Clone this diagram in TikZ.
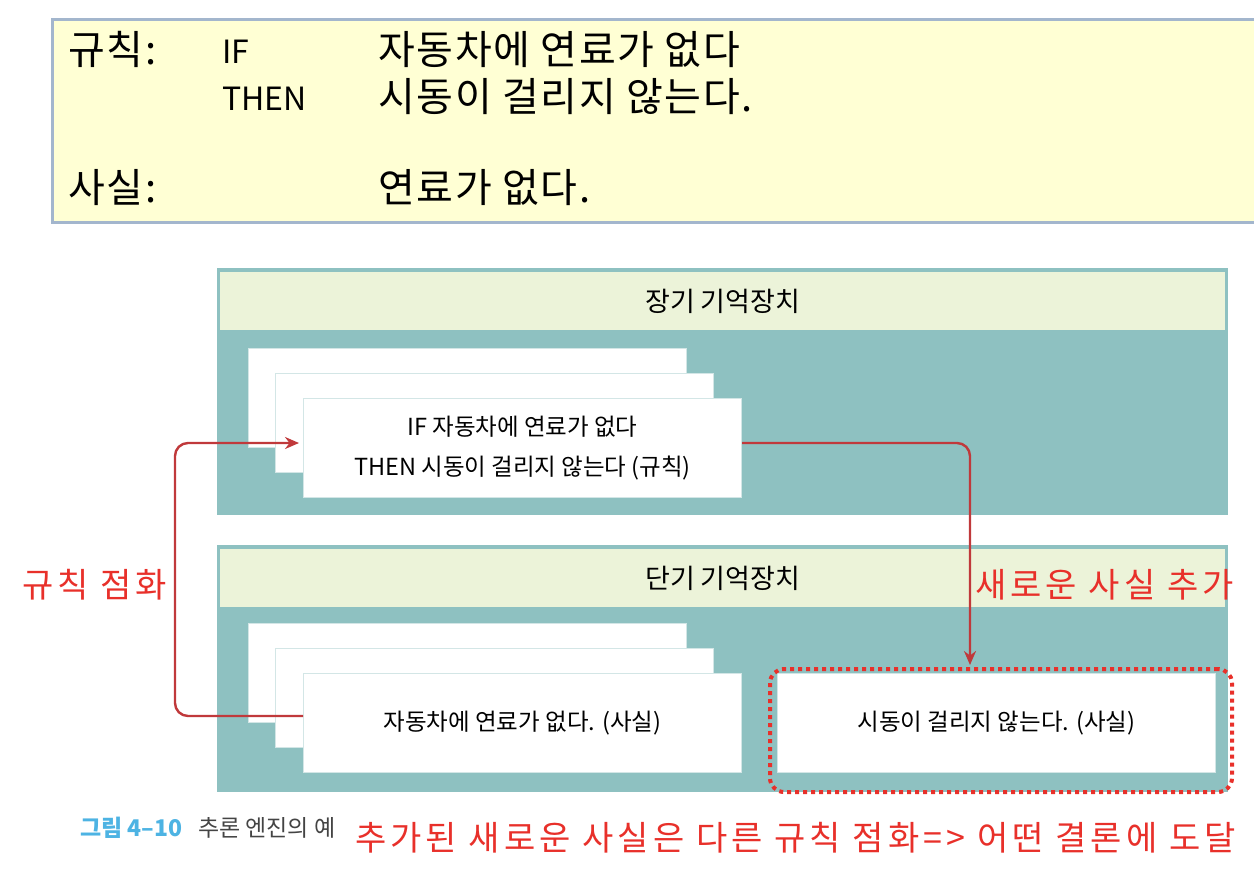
\documentclass[tikz,border=0pt]{standalone}
\usepackage{fontspec}
\setmainfont{Noto Sans CJK KR}
\newfontfamily\redfont[LetterSpace=12]{Noto Sans CJK KR}
\newfontfamily\topfont[LetterSpace=4]{Noto Sans CJK KR}
\usetikzlibrary{arrows.meta,positioning}
\definecolor{boxline}{HTML}{A3B6CD}
\definecolor{boxfill}{HTML}{FFFFD4}
\definecolor{memteal}{HTML}{8EC1C1}
\definecolor{memhead}{HTML}{ECF3D9}
\definecolor{cardline}{HTML}{D3E6E6}
\definecolor{linkred}{HTML}{C0393B}
\definecolor{notered}{HTML}{E8302A}
\definecolor{figblue}{HTML}{4DB3E3}
\definecolor{figgray}{HTML}{444444}
\tikzset{
  memory/.style={fill=memteal, minimum width=1011pt, minimum height=247pt, anchor=north west, inner sep=0pt},
  memtitle/.style={fill=memhead, minimum width=1005pt, minimum height=58pt, anchor=north west, inner sep=0pt, font=\fontsize{27}{30}\selectfont},
  card/.style={fill=white, draw=cardline, line width=1pt, minimum width=438pt, minimum height=99pt, anchor=north west, inner sep=0pt, align=center, font=\fontsize{23.5}{40}\selectfont},
  link/.style={draw=linkred, line width=2.4pt, rounded corners=13pt, -{Stealth[length=14pt,width=12pt]}},
  note/.style={text=notered, inner sep=0pt, font=\redfont\fontsize{34}{38}\selectfont},
  bigtext/.style={inner sep=0pt, anchor=base west, font=\topfont\fontsize{40}{44}\selectfont},
  smalltext/.style={inner sep=0pt, anchor=base west, font=\fontsize{32}{36}\selectfont}
}
\begin{document}
\begin{tikzpicture}[x=1pt,y=-1pt]
    \useasboundingbox (0,0) rectangle (1254,876);
    % rule and fact
    \filldraw[fill=boxfill, draw=boxline, line width=3pt] (52,19) rectangle (1260,222);
    \node[bigtext] (rulelbl) at (68,64) {규칙:};
    \node[smalltext] (iflbl) at (222,63) {IF};
    \node[bigtext] (iftext) at (378,64) {자동차에 연료가 없다};
    \node[smalltext] (thenlbl) at (222,110) {THEN};
    \node[bigtext] (thentext) at (378,111) {시동이 걸리지 않는다.};
    \node[bigtext] (factlbl) at (68,202) {사실:};
    \node[bigtext] (facttext) at (378,202) {연료가 없다.};
    % long-term memory
    \node[memory] (ltm) at (217,268) {};
    \node[memtitle] (ltmtitle) at (220,272) {장기 기억장치};
    \node[card] (ltm1) at (248,348) {};
    \node[card] (ltm2) at (275,373) {};
    \node[card] (ltm3) at (303,398) {IF 자동차에 연료가 없다\\THEN 시동이 걸리지 않는다 (규칙)};
    % short-term memory
    \node[memory] (stm) at (217,545) {};
    \node[memtitle] (stmtitle) at (220,549) {단기 기억장치};
    \node[card] (stm1) at (248,623) {};
    \node[card] (stm2) at (275,648) {};
    \node[card] (stm3) at (303,673) {자동차에 연료가 없다. (사실)};
    \node[card] (newfact) at (777,673) {시동이 걸리지 않는다. (사실)};
    \node[draw=notered, line width=4pt, dash pattern=on 4pt off 4pt, rounded corners=14pt,
          minimum width=462pt, minimum height=123pt, anchor=north west] (added) at (768,667) {};
    % connectors
    \coordinate (drop) at (970,665);
    \draw[link] ([yshift=5pt]ltm3.east) -| (drop);
    \draw[link, shorten >=4pt] ([yshift=7pt]stm3.west) -- ++(-128,0) |- ([yshift=5pt]ltm3.west);
    % notes
    \node[note, anchor=west] (fire) at (22,585) {규칙 점화};
    \node[note, anchor=west] (addnote) at (975,585) {새로운 사실 추가};
    \node[inner sep=0pt, anchor=west, text=figblue, font=\bfseries\fontsize{23}{26}\selectfont] (fignum) at (80,828) {그림 4–10};
    \node[inner sep=0pt, anchor=west, text=figgray, font=\fontsize{23}{26}\selectfont] (figcap) at (198,828) {추론 엔진의 예};
    \node[note, anchor=west] (result) at (355,838) {추가된 새로운 사실은 다른 규칙 점화=> 어떤 결론에 도달};
\end{tikzpicture}
\end{document}
